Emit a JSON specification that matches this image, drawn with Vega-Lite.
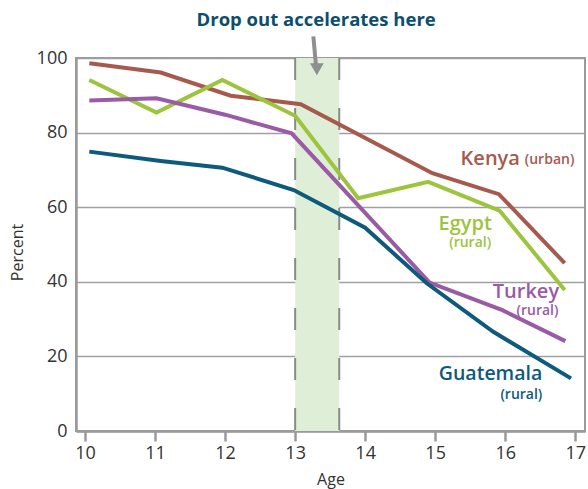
{
  "$schema": "https://vega.github.io/schema/vega-lite/v6.json",
  "autosize": {"type": "none"},
  "width": 509,
  "height": 373,
  "padding": {"left": 76, "top": 58, "right": 3, "bottom": 58},
  "background": "white",
  "config": {
    "font": "Open Sans",
    "view": {"stroke": "#9a9a9a", "strokeWidth": 2},
    "axis": {
      "domainColor": "#9a9a9a",
      "domainWidth": 2.5,
      "gridColor": "#a0a0a0",
      "gridWidth": 1.5,
      "labelFont": "Open Sans",
      "labelFontSize": 18,
      "labelColor": "#333333",
      "titleFont": "Open Sans",
      "titleFontSize": 16,
      "titleFontWeight": "normal",
      "titleColor": "#333333"
    }
  },
  "datasets": {
    "series": [
      {"country": "Kenya", "age": 10.06, "pct": 98.6},
      {"country": "Kenya", "age": 11.08, "pct": 96.1},
      {"country": "Kenya", "age": 12.08, "pct": 89.9},
      {"country": "Kenya", "age": 13.08, "pct": 87.6},
      {"country": "Kenya", "age": 14.96, "pct": 69.1},
      {"country": "Kenya", "age": 15.91, "pct": 63.5},
      {"country": "Kenya", "age": 16.85, "pct": 45.0},
      {"country": "Egypt", "age": 10.06, "pct": 94.1},
      {"country": "Egypt", "age": 11.02, "pct": 85.4},
      {"country": "Egypt", "age": 11.96, "pct": 94.1},
      {"country": "Egypt", "age": 13.0, "pct": 84.5},
      {"country": "Egypt", "age": 13.9, "pct": 62.4},
      {"country": "Egypt", "age": 14.9, "pct": 66.8},
      {"country": "Egypt", "age": 15.92, "pct": 59.1},
      {"country": "Egypt", "age": 16.85, "pct": 37.8},
      {"country": "Turkey", "age": 10.06, "pct": 88.6},
      {"country": "Turkey", "age": 11.02, "pct": 89.2},
      {"country": "Turkey", "age": 12.0, "pct": 84.8},
      {"country": "Turkey", "age": 12.95, "pct": 79.8},
      {"country": "Turkey", "age": 14.92, "pct": 39.8},
      {"country": "Turkey", "age": 15.96, "pct": 32.4},
      {"country": "Turkey", "age": 16.86, "pct": 24.1},
      {"country": "Guatemala", "age": 10.06, "pct": 74.9},
      {"country": "Guatemala", "age": 11.08, "pct": 72.4},
      {"country": "Guatemala", "age": 11.96, "pct": 70.6},
      {"country": "Guatemala", "age": 12.98, "pct": 64.6},
      {"country": "Guatemala", "age": 14.0, "pct": 54.5},
      {"country": "Guatemala", "age": 14.88, "pct": 39.6},
      {"country": "Guatemala", "age": 15.83, "pct": 26.6},
      {"country": "Guatemala", "age": 16.94, "pct": 14.1}
    ],
    "labelsRight": [
      {"country": "Kenya", "text": "Kenya", "age": 16.21, "pct": 73.0, "size": 20},
      {"country": "Turkey", "text": "Turkey", "age": 16.77, "pct": 37.3, "size": 20},
      {"country": "Turkey", "text": "(rural)", "age": 16.76, "pct": 32.3, "size": 14},
      {"country": "Guatemala", "text": "Guatemala", "age": 16.53, "pct": 15.3, "size": 19.5},
      {"country": "Guatemala", "text": "(rural)", "age": 16.53, "pct": 9.7, "size": 14}
    ],
    "labelsLeft": [
      {"country": "Kenya", "text": "(urban)", "age": 16.28, "pct": 72.6, "size": 14}
    ],
    "labelsCenter": [
      {"country": "Egypt", "text": "Egypt", "age": 15.43, "pct": 55.5, "size": 20},
      {"country": "Egypt", "text": "(rural)", "age": 15.5, "pct": 50.4, "size": 14}
    ]
  },
  "layer": [
    {
      "data": {"values": [{"start": 13.0, "end": 13.63, "lo": 0, "hi": 100}]},
      "mark": {"type": "rect", "color": "#dfeed6"},
      "encoding": {
        "x": {"field": "start", "type": "quantitative",
              "scale": {"domain": [9.87, 17.14], "nice": false, "zero": false},
              "axis": {"values": [10, 11, 12, 13, 14, 15, 16, 17], "format": "d", "title": "Age",
                       "grid": false, "ticks": true, "tickColor": "#9a9a9a", "tickWidth": 2.5,
                       "tickSize": 10, "labelPadding": 3, "titlePadding": 9}},
        "x2": {"field": "end"},
        "y": {"field": "lo", "type": "quantitative",
              "scale": {"domain": [0, 100], "nice": false},
              "axis": {"values": [0, 20, 40, 60, 80, 100], "format": "d", "title": "Percent",
                       "ticks": false, "labelPadding": 9, "grid": true,
                       "titleX": -59, "titleY": 194, "titleBaseline": "middle", "titleAlign": "center"}},
        "y2": {"field": "hi"}
      }
    },
    {
      "data": {"values": [{"xv": 13.0}, {"xv": 13.63}]},
      "mark": {"type": "rule", "color": "#8a8a8a", "strokeWidth": 2, "strokeDash": [22, 28]},
      "encoding": {"x": {"field": "xv", "type": "quantitative"}}
    },
    {
      "data": {"name": "series"},
      "mark": {"type": "line", "strokeWidth": 4, "strokeJoin": "miter"},
      "encoding": {
        "x": {"field": "age", "type": "quantitative"},
        "y": {"field": "pct", "type": "quantitative"},
        "color": {"field": "country", "type": "nominal",
                  "scale": {"domain": ["Kenya", "Egypt", "Turkey", "Guatemala"],
                            "range": ["#a65a4e", "#9cc43c", "#9a5ba6", "#0d5a7c"]},
                  "legend": null}
      }
    },
    {
      "data": {"name": "labelsRight"},
      "mark": {"type": "text", "baseline": "middle", "align": "right", "fontWeight": 600, "font": "Open Sans"},
      "encoding": {
        "x": {"field": "age", "type": "quantitative"},
        "y": {"field": "pct", "type": "quantitative"},
        "text": {"field": "text"},
        "size": {"field": "size", "type": "quantitative", "scale": null},
        "color": {"field": "country", "type": "nominal", "legend": null}
      }
    },
    {
      "data": {"name": "labelsLeft"},
      "mark": {"type": "text", "baseline": "middle", "align": "left", "fontWeight": 600, "font": "Open Sans"},
      "encoding": {
        "x": {"field": "age", "type": "quantitative"},
        "y": {"field": "pct", "type": "quantitative"},
        "text": {"field": "text"},
        "size": {"field": "size", "type": "quantitative", "scale": null},
        "color": {"field": "country", "type": "nominal", "legend": null}
      }
    },
    {
      "data": {"name": "labelsCenter"},
      "mark": {"type": "text", "baseline": "middle", "align": "center", "fontWeight": 600, "font": "Open Sans"},
      "encoding": {
        "x": {"field": "age", "type": "quantitative"},
        "y": {"field": "pct", "type": "quantitative"},
        "text": {"field": "text"},
        "size": {"field": "size", "type": "quantitative", "scale": null},
        "color": {"field": "country", "type": "nominal", "legend": null}
      }
    },
    {
      "data": {"values": [{"xa": 13.26, "ya": 105.8, "xb": 13.3, "yb": 97.5}]},
      "mark": {"type": "rule", "color": "#8f8f8f", "strokeWidth": 4, "clip": false},
      "encoding": {
        "x": {"field": "xa", "type": "quantitative"},
        "y": {"field": "ya", "type": "quantitative"},
        "x2": {"field": "xb"},
        "y2": {"field": "yb"}
      }
    },
    {
      "data": {"values": [{"xa": 13.31, "ya": 97.0}]},
      "mark": {"type": "point", "shape": "triangle-down", "filled": true, "color": "#8f8f8f", "size": 190, "opacity": 1},
      "encoding": {
        "x": {"field": "xa", "type": "quantitative"},
        "y": {"field": "ya", "type": "quantitative"}
      }
    },
    {
      "data": {"values": [{"xa": 13.3, "ya": 110.2, "t": "Drop out accelerates here"}]},
      "mark": {"type": "text", "clip": false, "fontSize": 18.5, "fontWeight": "bold", "font": "Open Sans", "color": "#0c4e6e", "align": "center", "baseline": "middle"},
      "encoding": {
        "x": {"field": "xa", "type": "quantitative"},
        "y": {"field": "ya", "type": "quantitative"},
        "text": {"field": "t"}
      }
    }
  ]
}
